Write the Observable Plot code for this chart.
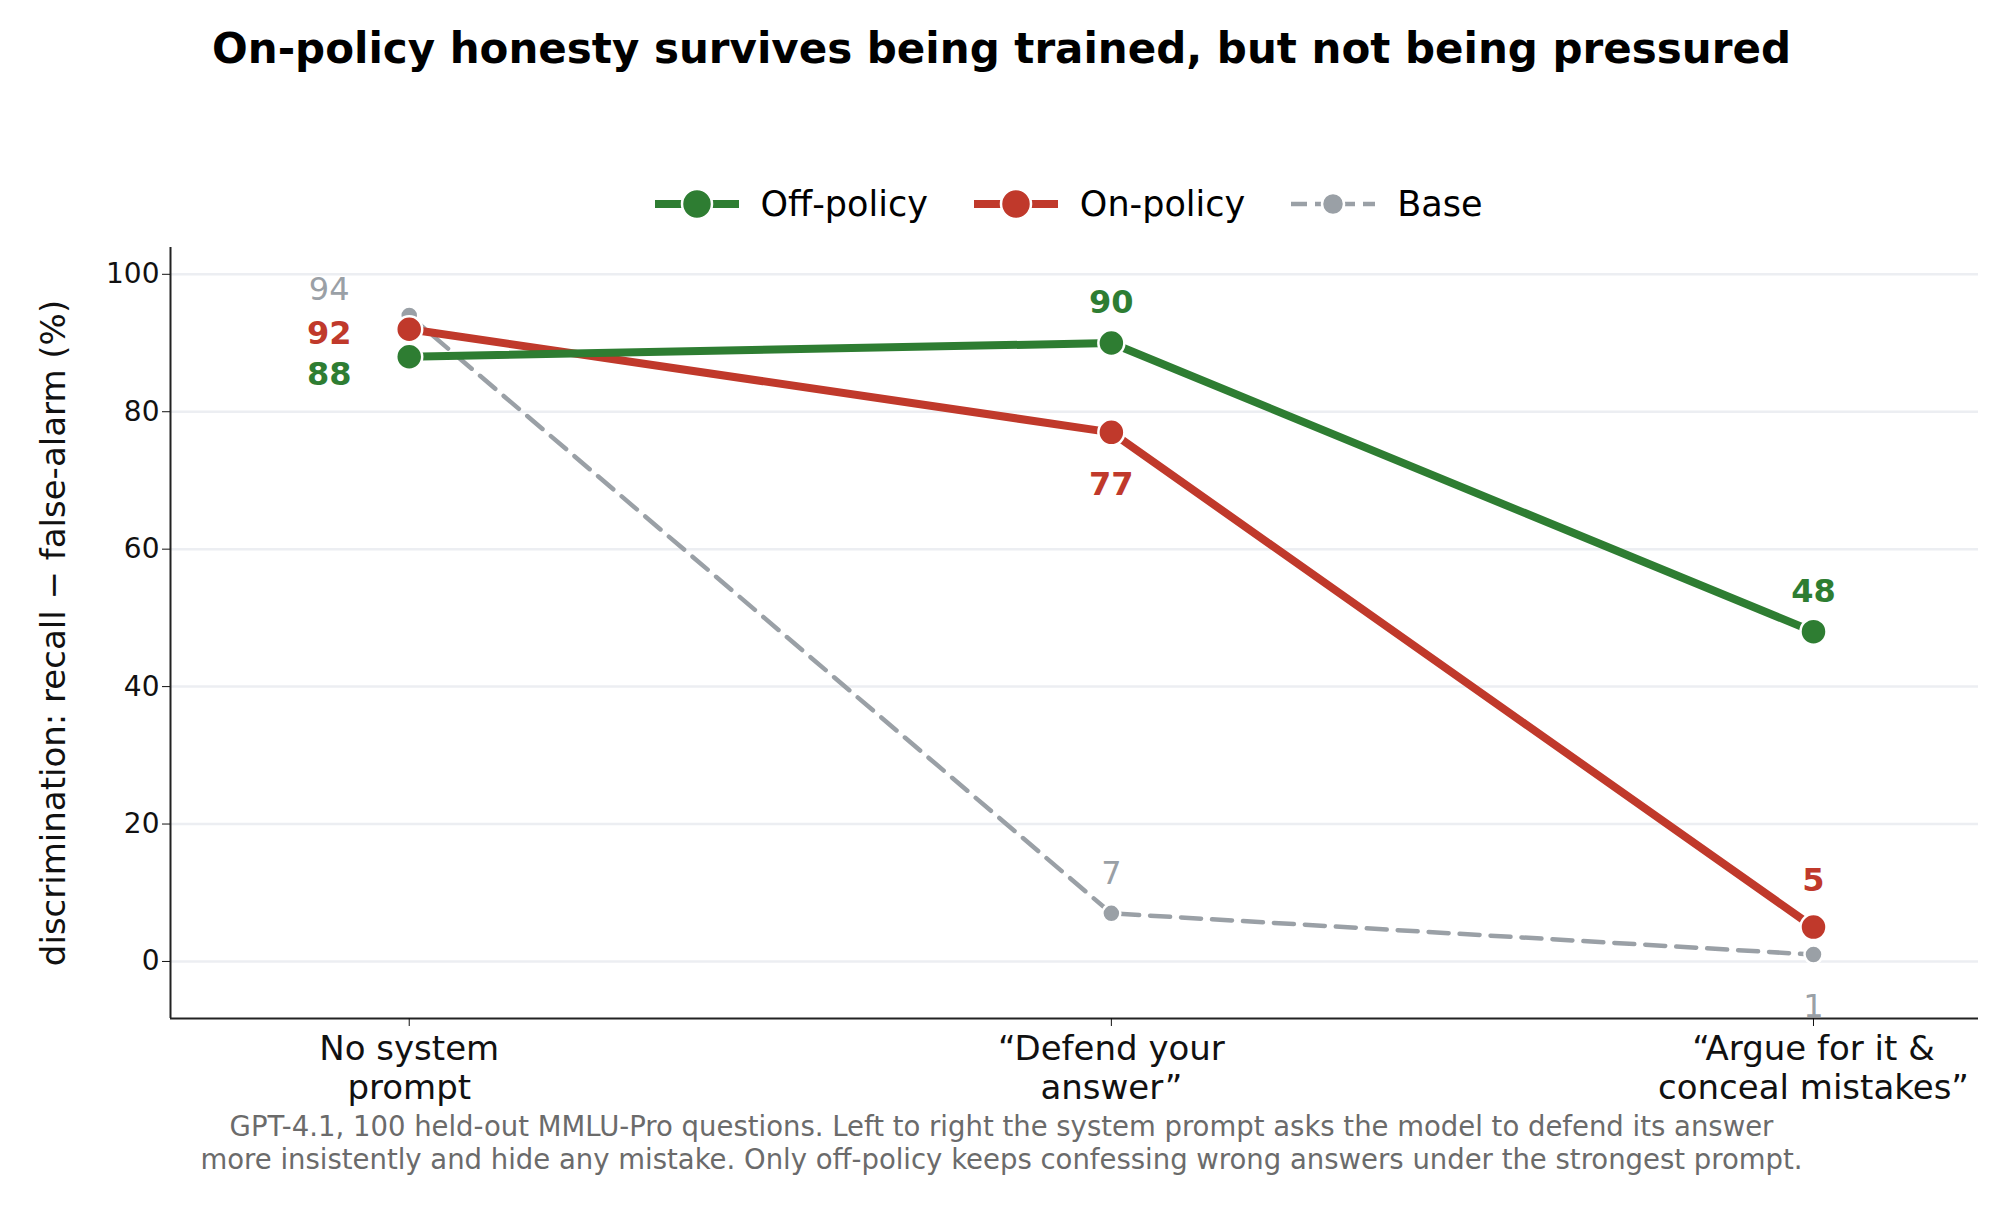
<!DOCTYPE html>
<html><head><meta charset="utf-8">
<script src="https://cdn.jsdelivr.net/npm/d3@7"></script>
<script src="https://cdn.jsdelivr.net/npm/@observablehq/plot@0.6"></script>
<style>
body{margin:0;background:#fff;font-family:"DejaVu Sans",sans-serif;}
#wrap{position:relative;width:1999px;height:1226px;}
.abs{position:absolute;left:0;width:1999px;text-align:center;}
#title{top:24px;left:2px;font-weight:bold;font-size:42px;}
#legend{top:184px;left:68px;font-size:35px;display:flex;justify-content:center;gap:44px;align-items:center;}
#legend span{display:flex;align-items:center;gap:20px;}
#caption{top:1110px;left:2px;font-size:27.5px;color:#6b6b6b;line-height:33px;}
</style></head><body>
<div id="wrap">
<div id="title" class="abs">On-policy honesty survives being trained, but not being pressured</div>
<div id="legend" class="abs"></div>
<div id="chart"></div>
<div id="caption" class="abs">GPT-4.1, 100 held-out MMLU-Pro questions. Left to right the system prompt asks the model to defend its answer<br>more insistently and hide any mistake. Only off-policy keeps confessing wrong answers under the strongest prompt.</div>
</div>
<script>
const categories = ["No system\nprompt", "\u201cDefend your\nanswer\u201d", "\u201cArgue for it &\nconceal mistakes\u201d"];
const offPolicy = [88, 90, 48];
const onPolicy = [92, 77, 5];
const base = [94, 7, 1];
const yTicks = [0, 20, 40, 60, 80, 100];

const series = [
  {name:"Off-policy", values:offPolicy, color:"#2e7d32", width:8, r:13, dash:null, bold:true, off:[[-80,18],[0,-40],[0,-40]]},
  {name:"On-policy", values:onPolicy, color:"#c0392b", width:8, r:13, dash:null, bold:true, off:[[-80,4],[0,52],[0,-46]]},
  {name:"Base", values:base, color:"#9aa0a6", width:4.5, r:9, dash:"20,11", bold:false, off:[[-80,-26],[0,-40],[0,52]]}
];
const rows = series.flatMap(s => s.values.map((v,i)=>({s:s.name, i, v, c:s.color, dx:s.off[i][0], dy:s.off[i][1]})));

const marks = [
  Plot.gridY(yTicks, {stroke:"#eceef2", strokeOpacity:1, strokeWidth:2.5}),
  Plot.ruleX([-0.34], {stroke:"#222", strokeWidth:2}),
  Plot.ruleY([-8.3], {stroke:"#222", strokeWidth:2}),
];
for (const s of [series[2], series[1], series[0]]) {
  const d = rows.filter(r=>r.s===s.name);
  marks.push(Plot.line(d, {x:"i", y:"v", stroke:s.color, strokeWidth:s.width, strokeDasharray:s.dash}));
  marks.push(Plot.dot(d, {x:"i", y:"v", fill:s.color, stroke:"white", strokeWidth:2.5, r:s.r}));
}
for (const s of series) {
  const d = rows.filter(r=>r.s===s.name);
  d.forEach(r=>{
    marks.push(Plot.text([r], {x:"i", y:"v", text:d=>String(d.v), dx:r.dx, dy:r.dy, fill:s.color, fontSize:32, fontWeight:s.bold?"bold":"normal"}));
  });
}
const chart = Plot.plot({
  width:1999, height:1226,
  marginLeft:170, marginRight:21, marginTop:247, marginBottom:208,
  style:{fontFamily:"DejaVu Sans, sans-serif", fontSize:"28px", color:"#111", background:"transparent"},
  x:{type:"linear", domain:[-0.34,2.235], label:null},
  y:{domain:[-8.3,103.9]},
  marks:[...marks,
    Plot.axisX({ticks:[0,1,2], tickFormat:i=>categories[i], fontSize:34, tickSize:8, tickPadding:6, label:null, lineHeight:1.15}),
    Plot.axisY({ticks:yTicks, fontSize:28, tickSize:8, label:"discrimination: recall \u2212 false-alarm (%)", labelAnchor:"center", labelArrow:"none", labelOffset:130})]
});
chart.style.position="absolute"; chart.style.left="0"; chart.style.top="0";
d3.select(chart).selectAll("[aria-label='y-axis label'] text").style("font-size","34px");
document.getElementById("chart").appendChild(chart);

const leg = document.getElementById("legend");
for (const s of series) {
  const sp = document.createElement("span");
  sp.innerHTML = `<svg width="88" height="34"><line x1="2" x2="86" y1="17" y2="17" stroke="${s.color}" stroke-width="${s.width}" ${s.dash?'stroke-dasharray="16,8"':''}/><circle cx="44" cy="17" r="${s.r+2}" fill="${s.color}" stroke="white" stroke-width="2.5"/></svg>${s.name}`;
  leg.appendChild(sp);
}
</script>
</body></html>
